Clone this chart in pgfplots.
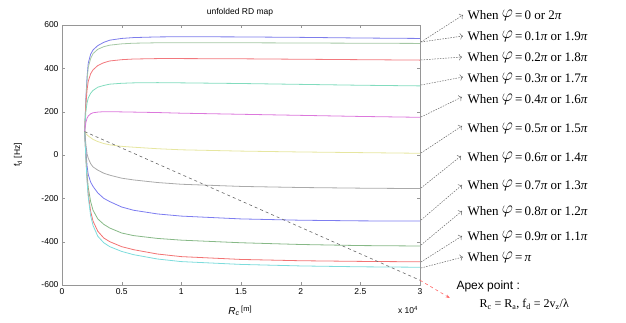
\documentclass[border=0pt]{standalone}
\usepackage{pgfplots}
\pgfplotsset{compat=1.18}
\usepackage{fontspec}
\setmainfont{Liberation Serif}
\setsansfont{Liberation Sans}
\usetikzlibrary{arrows.meta}
\definecolor{cA}{RGB}{125,125,235}
\definecolor{cB}{RGB}{165,200,165}
\definecolor{cC}{RGB}{242,120,125}
\definecolor{cD}{RGB}{130,220,190}
\definecolor{cE}{RGB}{220,120,220}
\definecolor{cF}{RGB}{230,230,160}
\definecolor{cG}{RGB}{170,170,170}
\definecolor{cH}{RGB}{125,125,240}
\definecolor{cI}{RGB}{135,185,135}
\definecolor{cJ}{RGB}{242,115,115}
\definecolor{cK}{RGB}{125,220,220}
\definecolor{axgray}{RGB}{150,150,150}
\newcommand{\when}[2]{When\ \raisebox{2pt}{\fontsize{18}{18}\selectfont$\varphi$}\,=\,#1 or #2}
\newcommand{\pii}{{\itshape π}}
\begin{document}
\begin{tikzpicture}[x=1pt,y=1pt]
\path[use as bounding box] (0,0) rectangle (626,322);
\begin{axis}[at={(62pt,37pt)}, anchor=south west, scale only axis,
  width=358pt, height=260pt,
  xmin=0, xmax=3, ymin=-600, ymax=600,
  xtick={0,0.5,1,1.5,2,2.5,3}, xticklabels={0,0.5,1,1.5,2,2.5,3},
  ytick={-600,-400,-200,0,200,400,600}, yticklabels={-600,-400,-200,0,200,400,600},
  tick label style={font=\sffamily\fontsize{8.5}{9}\selectfont},
  /pgf/number format/assume math mode=true,
  axis line style={axgray}, major tick style={axgray}, tick align=inside,
  major tick length=3pt,
  clip=false,
  every axis plot/.append style={line width=0.8pt},
]
% phi = 0
\addplot[cA] coordinates {(0.19,108) (0.2,260) (0.21,360) (0.22,424) (0.24,465) (0.26,485) (0.3,505) (0.35,520) (0.4,530) (0.5,538) (0.6,542) (0.8,545) (1.0,546) (1.5,545) (2.0,543) (2.5,540) (3.0,538)};
% 0.1
\addplot[cB] coordinates {(0.19,108) (0.2,250) (0.21,345) (0.22,405) (0.24,445) (0.26,468) (0.3,488) (0.35,500) (0.4,507) (0.5,513) (0.6,516) (0.8,518) (1.0,518) (1.5,518) (2.0,517) (2.5,516) (3.0,515)};
% 0.2
\addplot[cC] coordinates {(0.19,108) (0.2,230) (0.21,300) (0.22,340) (0.24,375) (0.26,393) (0.3,413) (0.35,426) (0.4,434) (0.5,440) (0.6,443) (0.8,445) (1.0,445) (1.5,444) (2.0,442) (2.5,440) (3.0,438)};
% 0.3
\addplot[cD] coordinates {(0.19,108) (0.2,200) (0.21,240) (0.22,263) (0.24,285) (0.26,298) (0.3,313) (0.35,321) (0.4,327) (0.5,331) (0.6,333) (0.8,334) (1.0,333) (1.5,330) (2.0,326) (2.5,322) (3.0,319)};
% 0.4
\addplot[cE] coordinates {(0.19,108) (0.2,150) (0.21,170) (0.22,180) (0.24,190) (0.26,195) (0.3,198) (0.35,200) (0.4,200) (0.5,199) (0.6,198) (0.8,196) (1.0,193) (1.5,188) (2.0,183) (2.5,178) (3.0,174)};
% 0.5
\addplot[cF] coordinates {(0.19,108) (0.2,98) (0.22,88) (0.24,80) (0.26,72) (0.3,62) (0.35,53) (0.4,47) (0.5,40) (0.6,36) (0.8,29) (1.0,24) (1.5,18) (2.0,14) (2.5,11) (3.0,8)};
% 0.6
\addplot[cG] coordinates {(0.19,108) (0.2,50) (0.21,5) (0.22,-15) (0.24,-40) (0.26,-55) (0.3,-70) (0.35,-84) (0.4,-93) (0.5,-107) (0.6,-115) (0.8,-127) (1.0,-135) (1.5,-145) (2.0,-150) (2.5,-153) (3.0,-155)};
% 0.7
\addplot[cH] coordinates {(0.19,108) (0.2,20) (0.21,-50) (0.22,-90) (0.24,-125) (0.26,-145) (0.3,-175) (0.35,-200) (0.4,-215) (0.5,-240) (0.6,-255) (0.8,-272) (1.0,-282) (1.5,-295) (2.0,-301) (2.5,-304) (3.0,-305)};
% 0.8
\addplot[cI] coordinates {(0.19,108) (0.2,0) (0.21,-90) (0.22,-150) (0.24,-215) (0.26,-255) (0.3,-295) (0.35,-320) (0.4,-337) (0.5,-360) (0.6,-372) (0.8,-385) (1.0,-393) (1.5,-405) (2.0,-413) (2.5,-418) (3.0,-420)};
% 0.9
\addplot[cJ] coordinates {(0.19,108) (0.2,-10) (0.21,-110) (0.22,-180) (0.24,-260) (0.26,-305) (0.3,-352) (0.35,-383) (0.4,-400) (0.5,-423) (0.6,-437) (0.8,-457) (1.0,-469) (1.5,-482) (2.0,-488) (2.5,-491) (3.0,-493)};
% pi
\addplot[cK] coordinates {(0.19,108) (0.2,-15) (0.21,-120) (0.22,-195) (0.24,-280) (0.26,-325) (0.3,-375) (0.35,-405) (0.4,-423) (0.5,-445) (0.6,-460) (0.8,-480) (1.0,-492) (1.5,-505) (2.0,-512) (2.5,-516) (3.0,-518)};
% apex line
\addplot[gray!80!black, dashed, line width=0.6pt] coordinates {(0.19,108) (3.0,-578)};
\addplot[red!60!white, dashed, line width=0.6pt, -{Stealth[length=4pt]}] coordinates {(3.0,-578) (3.25,-660)};
\end{axis}
% titles and labels
\node[font=\sffamily\fontsize{8.5}{9}\selectfont] at (240,310) {unfolded RD map};
\node[font=\sffamily\fontsize{8.5}{9}\selectfont, rotate=90] at (18,167) {f\textsubscript{d} [Hz]};
\node[font=\sffamily\fontsize{10}{11}\selectfont, anchor=base] at (240,8) {\textit{R\textsubscript{c}}\,\raisebox{3pt}{\fontsize{7.5}{8}\selectfont [m]}};
\node[font=\sffamily\fontsize{8.5}{9}\selectfont, anchor=base] at (408,9) {x 10\textsuperscript{4}};
% annotation arrows
\begin{scope}[gray!80!black, line width=0.5pt, dash pattern=on 1.5pt off 1.2pt, -{To[length=3pt]}]
\draw (421,280) -- (463,307);
\draw (421,280) -- (463,286);
\draw (421,262) -- (462,265);
\draw (421,237) -- (463,245);
\draw (421,205) -- (462,225);
\draw (421,169) -- (462,196);
\draw (421,134) -- (461,166);
\draw (421,102) -- (462,137);
\draw (421,77) -- (462,111);
\draw (421,60) -- (462,86);
\draw (421,54) -- (463,65);
\end{scope}
\begin{scope}[font=\fontsize{13}{14}\selectfont, anchor=west]
\node at (464,307) {\when{0}{2\pii}};
\node at (464,286) {\when{0.1\pii}{1.9\pii}};
\node at (464,265) {\when{0.2\pii}{1.8\pii}};
\node at (464,244) {\when{0.3\pii}{1.7\pii}};
\node at (464,223) {\when{0.4\pii}{1.6\pii}};
\node at (464,194) {\when{0.5\pii}{1.5\pii}};
\node at (464,165) {\when{0.6\pii}{1.4\pii}};
\node at (464,137) {\when{0.7\pii}{1.3\pii}};
\node at (464,111) {\when{0.8\pii}{1.2\pii}};
\node at (464,86) {\when{0.9\pii}{1.1\pii}};
\node at (464,65) {When\ \raisebox{2pt}{\fontsize{18}{18}\selectfont$\varphi$}\,=\,\pii};
\end{scope}
\node[anchor=west, font=\sffamily\fontsize{12}{13}\selectfont] at (453,36) {Apex point :};
\node[anchor=west, font=\fontsize{12}{13}\selectfont] at (476,18) {R\textsubscript{c} = R\textsubscript{a}, f\textsubscript{d} = 2v\textsubscript{z}/λ};
\end{tikzpicture}
\end{document}
